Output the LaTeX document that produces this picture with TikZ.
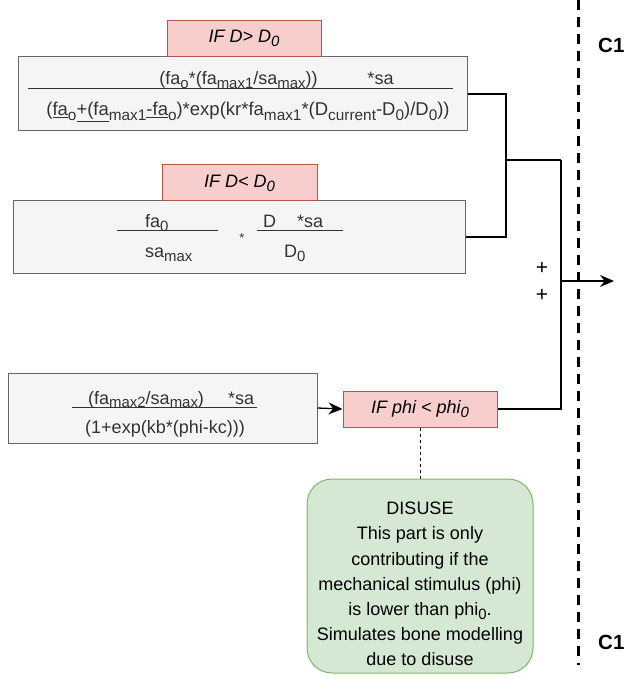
\documentclass[tikz,border=0pt]{standalone}
\usepackage{fontspec}
\setmainfont{Liberation Sans}
\usetikzlibrary{arrows.meta}
\definecolor{redfill}{HTML}{F8CECC}
\definecolor{redline}{HTML}{B85450}
\definecolor{grayfill}{HTML}{F5F5F5}
\definecolor{grayline}{HTML}{666666}
\definecolor{greenfill}{HTML}{D5E8D4}
\definecolor{greenline}{HTML}{82B366}
\definecolor{txt}{HTML}{333333}
\newcommand{\sbs}[1]{\raisebox{-0.22em}{\scalebox{0.83}{#1}}}
\begin{document}
\begin{tikzpicture}[x=1pt,y=-1pt,
  font=\fontsize{18}{22}\selectfont,
  condbox/.style={draw=redline, fill=redfill, line width=1pt, inner sep=0pt, font=\fontsize{18}{22}\selectfont\itshape},
  formbox/.style={draw=grayline, fill=grayfill, line width=1pt, inner sep=0pt},
  formtxt/.style={text=txt, inner sep=0pt},
  bar/.style={draw=txt, line width=0.9pt},
  conn/.style={draw=black, line width=1.3pt},
  tip/.style={-{Stealth[length=14pt,width=12pt]}},
  notebox/.style={draw=greenline, fill=greenfill, line width=1pt, rounded corners=25pt, inner sep=0pt},
  sep/.style={draw=black, line width=3pt, dash pattern=on 10pt off 7pt},
  clabel/.style={font=\fontsize{20.5}{24}\selectfont\bfseries, anchor=west, inner sep=0pt},
  plus/.style={inner sep=0pt, font=\fontsize{21}{24}\selectfont}]
\useasboundingbox (0,0) rectangle (626,684);

% separator
\coordinate (sepTop) at (578,0);
\coordinate (sepBot) at (578,665);
\draw[sep] (sepTop) -- (sepBot);
\node[clabel] (c1a) at (598,45) {C1};
\node[clabel] (c1b) at (598,642) {C1};

% box 1
\node[formbox, minimum width=449pt, minimum height=74pt] (f1) at (242.5,94) {};
\node[condbox, minimum width=154pt, minimum height=36pt] (h1) at (244,38.5) {IF D> D\sbs{0}};
\coordinate (b1l) at (28,88);
\coordinate (b1r) at (453,88);
\draw[bar] (b1l) -- (b1r);
\node[formtxt, anchor=base] (t1a) at (238.5,85) {(fa\sbs{o}*(fa\sbs{max1}/sa\sbs{max}))};
\node[formtxt, anchor=base] (t1b) at (380.5,85) {*sa};
\node[formtxt, anchor=base] (t1c) at (248,116) {\fontsize{18.5}{22}\selectfont(\underline{fa}\sbs{o}\underline{+(fa}\sbs{max1}\underline{-fa}\sbs{o})*exp(kr*fa\sbs{max1}*(D\sbs{current}-D\sbs{0})/D\sbs{0}))};

% box 2
\node[formbox, minimum width=452pt, minimum height=72pt] (f2) at (239,237) {};
\node[condbox, minimum width=155pt, minimum height=36pt] (h2) at (239.5,183) {IF D< D\sbs{0}};
\coordinate (b2al) at (117,230);
\coordinate (b2ar) at (218,230);
\draw[bar] (b2al) -- (b2ar);
\node[formtxt, anchor=base west] (t2a) at (145,228) {fa\sbs{0}};
\node[formtxt, anchor=base west] (t2b) at (145,258) {sa\sbs{max}};
\node[formtxt] (t2c) at (242,238) {\fontsize{13}{15}\selectfont *};
\coordinate (b2bl) at (257,230);
\coordinate (b2br) at (343,230);
\draw[bar] (b2bl) -- (b2br);
\node[formtxt, anchor=base west] (t2d) at (263,228) {D};
\node[formtxt, anchor=base west] (t2e) at (297,228) {*sa};
\node[formtxt, anchor=base west] (t2f) at (284,258) {D\sbs{0}};

% box 3
\node[formbox, minimum width=309pt, minimum height=70pt] (f3) at (162.5,408) {};
\coordinate (b3l) at (72,407);
\coordinate (b3r) at (257,407);
\draw[bar] (b3l) -- (b3r);
\node[formtxt, anchor=base west] (t3a) at (88,404) {(fa\sbs{max2}/sa\sbs{max})};
\node[formtxt, anchor=base west] (t3b) at (228,404) {*sa};
\node[formtxt, anchor=base] (t3c) at (165,433) {(1+exp(kb*(phi-kc)))};

% condition phi
\node[condbox, minimum width=154pt, minimum height=36pt] (h3) at (420,409) {IF phi < phi\sbs{0}};

% note
\node[notebox, minimum width=226pt, minimum height=194pt] (note) at (420,576) {};
\node[align=center, inner sep=0pt, font=\fontsize{18}{25.2}\selectfont] (notetxt) at (420,584) {DISUSE\\This part is only\\contributing if the\\mechanical stimulus (phi)\\is lower than phi\sbs{0}.\\Simulates bone modelling\\due to disuse};

% connectors
\coordinate (j1) at (506,160);
\coordinate (j2) at (561,160);
\coordinate (jo) at (561,281);
\coordinate (out) at (614,281);
\draw[conn] (f1.east) -| (j1);
\draw[conn] (f2.east) -| (j1);
\draw[conn] (j1) -- (j2);
\draw[conn] (h3.east) -| (j2);
\draw[conn, tip] (jo) -- (out);
\draw[conn, tip] (f3.east) -- (h3.west);
\draw[draw=black, line width=1pt, dashed] (h3.south) -- (note.north);

\node[plus] (plus1) at (542,268) {+};
\node[plus] (plus2) at (542,295) {+};
\end{tikzpicture}
\end{document}
